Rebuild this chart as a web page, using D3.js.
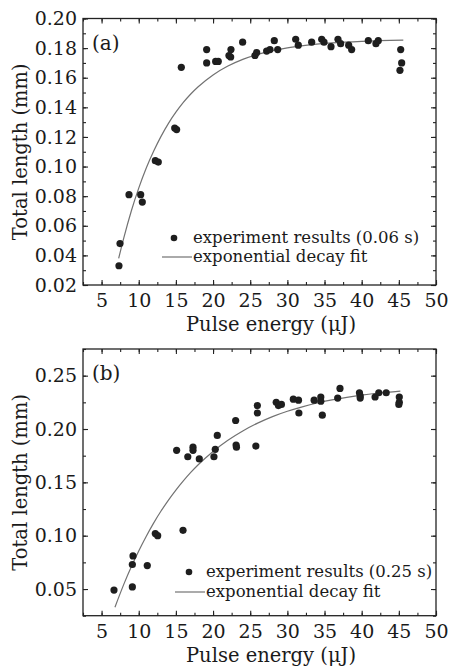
<!DOCTYPE html>
<html>
<head>
<meta charset="utf-8">
<script src="https://cdn.jsdelivr.net/npm/d3@7"></script>
<style>
  body { margin: 0; background: #fff; }
  svg text { font-family: "DejaVu Serif", serif; fill: #1a1a1a; }
</style>
</head>
<body>
<div id="chart"></div>
<script>
// panel (a): 0.06 s exposure
const energyA = [7.34, 7.48, 8.69, 10.26, 10.48, 12.23, 12.63, 14.84, 15.1, 15.73,
  19.14, 19.14, 20.35, 20.7, 22.14, 22.41, 22.37, 23.98, 25.64, 25.87,
  27.21, 27.66, 28.24, 28.7, 31.12, 31.47, 33.27, 34.62, 34.93, 35.87,
  36.81, 37.17, 38.25, 38.65, 40.89, 41.92, 42.23, 45.25, 45.38, 45.15]
const lengthA = [0.033, 0.048, 0.081, 0.081, 0.076, 0.104, 0.103, 0.126, 0.125, 0.167,
  0.179, 0.170, 0.171, 0.171, 0.175, 0.179, 0.174, 0.184, 0.175, 0.177,
  0.178, 0.179, 0.185, 0.179, 0.186, 0.182, 0.184, 0.186, 0.184, 0.181,
  0.186, 0.183, 0.182, 0.179, 0.185, 0.183, 0.185, 0.179, 0.170, 0.165]
const fitEnergyA = [7.3, 8, 9, 10, 11, 12, 13, 14, 15, 16, 17, 18, 20, 22, 24, 26, 28, 30, 33, 36, 40, 45.6]
const fitLengthA = [0.038, 0.052, 0.070, 0.0854, 0.0988, 0.1103, 0.1204, 0.1292, 0.1367, 0.1433, 0.149,
  0.1539, 0.1619, 0.1679, 0.1724, 0.1758, 0.1783, 0.1802, 0.1822, 0.1835, 0.1846, 0.1854]

// panel (b): 0.25 s exposure
const energyB = [6.67, 9.14, 9.14, 9.23, 11.15, 12.23, 12.55, 15.96, 15.1, 16.6,
  17.3, 17.3, 18.15, 20.12, 20.3, 20.57, 23.04, 23.1, 23.15, 25.76,
  25.96, 25.96, 28.5, 28.8, 29.2, 30.8, 31.5, 31.55, 33.6, 34.5,
  34.5, 34.7, 36.77, 37.08, 39.7, 39.8, 39.8, 41.8, 42.3, 43.3,
  45.06, 45.06, 45.0]
const lengthB = [0.049, 0.052, 0.073, 0.081, 0.072, 0.102, 0.100, 0.105, 0.180, 0.174,
  0.183, 0.180, 0.172, 0.174, 0.181, 0.194, 0.208, 0.185, 0.183, 0.184,
  0.222, 0.215, 0.225, 0.222, 0.223, 0.228, 0.227, 0.215, 0.227, 0.230,
  0.226, 0.213, 0.229, 0.238, 0.234, 0.231, 0.229, 0.230, 0.234, 0.234,
  0.230, 0.225, 0.223]
const fitEnergyB = [6.8, 8, 9, 10, 11, 12, 13, 14, 15, 16, 17, 18, 20, 22, 24, 26, 28, 30, 32, 34, 36, 38, 40, 42, 45.2]
const fitLengthB = [0.033, 0.0546, 0.0709, 0.0857, 0.0993, 0.1118, 0.1231, 0.1334, 0.1428, 0.1514, 0.1593,
  0.1665, 0.179, 0.1895, 0.1982, 0.2055, 0.2116, 0.2166, 0.2208, 0.2244, 0.2273, 0.2297, 0.2318, 0.2335, 0.2356]

const xTicks = [5, 10, 15, 20, 25, 30, 35, 40, 45, 50]
const xMinor = d3.range(2.5, 50.01, 2.5)
const yTicksA = [0.02, 0.04, 0.06, 0.08, 0.10, 0.12, 0.14, 0.16, 0.18, 0.20]
const yMinorA = d3.range(0.02, 0.2001, 0.01)
const yTicksB = [0.05, 0.10, 0.15, 0.20, 0.25]
const yMinorB = d3.range(0.025, 0.2751, 0.025)

const width = 451, height = 667

const svg = d3.select('#chart')
    .append('svg')
    .attr('width', width)
    .attr('height', height)

function drawPanel(cfg) {
    const g = svg.append('g')
    const x = d3.scaleLinear().domain([2.5, 50]).range([83, 436])
    const y = d3.scaleLinear().domain(cfg.yDomain).range([cfg.bottom, cfg.top])

    // minor ticks on all four sides
    const minorAxes = [
        [d3.axisBottom(x).tickValues(xMinor), `translate(0,${cfg.bottom})`],
        [d3.axisTop(x).tickValues(xMinor), `translate(0,${cfg.top})`],
        [d3.axisLeft(y).tickValues(cfg.yMinor), `translate(83,0)`],
        [d3.axisRight(y).tickValues(cfg.yMinor), `translate(436,0)`],
    ]
    minorAxes.forEach(([ax, tr]) => {
        g.append('g')
            .attr('transform', tr)
            .call(ax.tickSizeInner(-3).tickSizeOuter(0).tickFormat(''))
            .call(s => s.select('.domain').remove())
    })

    // major ticks + labels
    g.append('g')
        .attr('transform', `translate(0,${cfg.bottom})`)
        .call(d3.axisBottom(x).tickValues(xTicks).tickSizeInner(-5).tickSizeOuter(0).tickPadding(9))
        .call(s => s.select('.domain').remove())
    g.append('g')
        .attr('transform', `translate(83,0)`)
        .call(d3.axisLeft(y).tickValues(cfg.yTicks).tickFormat(d3.format('.2f'))
            .tickSizeInner(-5).tickSizeOuter(0).tickPadding(6))
        .call(s => s.select('.domain').remove())
    g.append('g')
        .attr('transform', `translate(0,${cfg.top})`)
        .call(d3.axisTop(x).tickValues(xTicks).tickSizeInner(-5).tickSizeOuter(0).tickFormat(''))
        .call(s => s.select('.domain').remove())
    g.append('g')
        .attr('transform', `translate(436,0)`)
        .call(d3.axisRight(y).tickValues(cfg.yTicks).tickSizeInner(-5).tickSizeOuter(0).tickFormat(''))
        .call(s => s.select('.domain').remove())

    g.selectAll('.tick line').attr('stroke', '#222').attr('stroke-width', 1.1)
    g.selectAll('.tick text')
        .attr('font-family', '"DejaVu Serif", serif')
        .attr('font-size', 19)
        .attr('fill', '#1a1a1a')

    // frame
    g.append('rect')
        .attr('x', 83)
        .attr('y', cfg.top)
        .attr('width', 436 - 83)
        .attr('height', cfg.bottom - cfg.top)
        .attr('fill', 'none')
        .attr('stroke', '#222')
        .attr('stroke-width', 1.3)

    // fit curve
    const fitPts = cfg.fitX.map((d, i) => [d, cfg.fitY[i]])
    g.append('path')
        .datum(fitPts)
        .attr('d', d3.line().x(d => x(d[0])).y(d => y(d[1])).curve(d3.curveMonotoneX))
        .attr('fill', 'none')
        .attr('stroke', '#727272')
        .attr('stroke-width', 1.2)

    // experiment points
    const pts = cfg.ex.map((d, i) => [d, cfg.ey[i]])
    g.selectAll('.dot')
        .data(pts)
        .enter()
        .append('circle')
        .attr('class', 'dot')
        .attr('cx', d => x(d[0]))
        .attr('cy', d => y(d[1]))
        .attr('r', 3.6)
        .attr('fill', '#1e1e1e')

    // panel letter
    g.append('text')
        .attr('x', 92)
        .attr('y', cfg.top + 31)
        .attr('font-size', 20)
        .text(cfg.letter)

    // legend
    const lg = cfg.legend
    g.append('circle')
        .attr('cx', lg.dotX)
        .attr('cy', lg.y1 - 5)
        .attr('r', 3.3)
        .attr('fill', '#1e1e1e')
    g.append('text')
        .attr('x', lg.textX)
        .attr('y', lg.y1)
        .attr('font-size', 16.5)
        .text(lg.label)
    g.append('line')
        .attr('x1', lg.lineX1)
        .attr('x2', lg.textX - 1)
        .attr('y1', lg.y2 - 5)
        .attr('y2', lg.y2 - 5)
        .attr('stroke', '#727272')
        .attr('stroke-width', 1.2)
    g.append('text')
        .attr('x', lg.textX)
        .attr('y', lg.y2)
        .attr('font-size', 16.5)
        .text('exponential decay fit')

    // axis titles
    g.append('text')
        .attr('x', 271)
        .attr('y', cfg.bottom + 46)
        .attr('text-anchor', 'middle')
        .attr('font-size', 19.5)
        .text('Pulse energy (μJ)')
    g.append('text')
        .attr('transform', `translate(27,${(cfg.top + cfg.bottom) / 2}) rotate(-90)`)
        .attr('text-anchor', 'middle')
        .attr('font-size', 19.5)
        .text('Total length (mm)')
}

drawPanel({
    top: 18.5, bottom: 285, yDomain: [0.02, 0.20],
    yTicks: yTicksA, yMinor: yMinorA,
    ex: energyA, ey: lengthA, fitX: fitEnergyA, fitY: fitLengthA,
    letter: '(a)',
    legend: { dotX: 174, textX: 193, lineX1: 162, y1: 243, y2: 262, label: 'experiment results (0.06 s)' }
})

drawPanel({
    top: 349, bottom: 615.7, yDomain: [0.025, 0.275],
    yTicks: yTicksB, yMinor: yMinorB,
    ex: energyB, ey: lengthB, fitX: fitEnergyB, fitY: fitLengthB,
    letter: '(b)',
    legend: { dotX: 189, textX: 206, lineX1: 175, y1: 577, y2: 597, label: 'experiment results (0.25 s)' }
})
</script>
</body>
</html>
